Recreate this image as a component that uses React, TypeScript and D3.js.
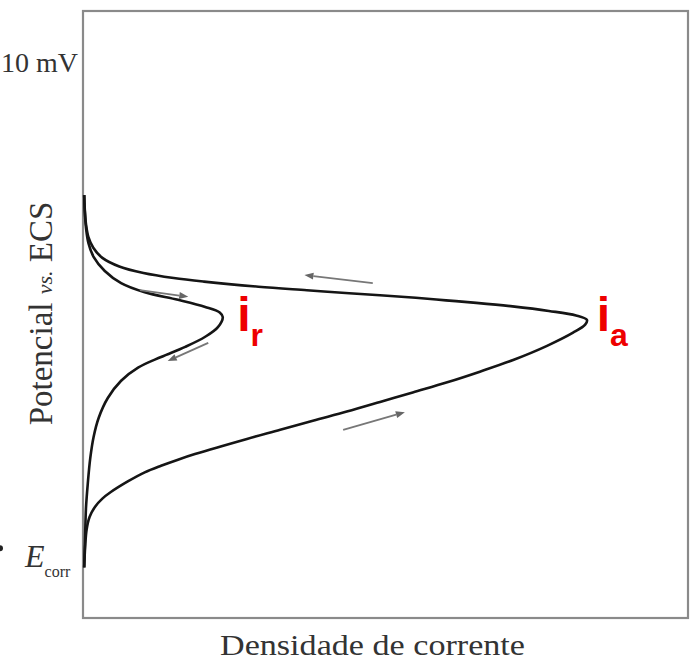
import React from "react";
import * as d3 from "d3";

// Potential axis: 0 = E_corr, 100 = top label; current density in arbitrary units 0..100
const anodicForward: [number, number][] = [
  [0.2, 0], [0.35, 4.0], [0.6, 7.5], [1.1, 10.0], [2.0, 12.0], [3.2, 13.6], [4.6, 14.9],
  [7.4, 17.0], [10.2, 18.8], [12.9, 20.1], [15.7, 21.3], [18.5, 22.4], [27.1, 25.4],
  [32.6, 27.2], [38.0, 29.0], [43.6, 30.8], [49.1, 32.7], [54.5, 34.6], [60.2, 36.6],
  [65.6, 38.7], [71.1, 41.0], [76.7, 43.8], [81.0, 46.4], [83.0, 48.0], [83.3, 48.9],
];
const anodicReverse: [number, number][] = [
  [83.3, 48.9], [81.5, 49.8], [77.0, 50.7], [71.0, 51.6], [65.0, 52.3], [60.0, 52.8],
  [55.0, 53.3], [44.0, 54.2], [37.0, 54.8], [29.0, 55.5], [20.0, 56.5], [15.0, 57.2],
  [10.0, 58.2], [6.0, 59.5], [3.2, 61.2], [1.7, 63.2], [0.9, 65.3], [0.5, 67.8],
  [0.3, 70.7], [0.2, 73.6],
];
const reactivationLower: [number, number][] = [
  [0.2, 0], [0.33, 5.4], [0.5, 11.9], [0.8, 16.7], [1.2, 21.6], [1.75, 25.8], [2.6, 29.6],
  [4.1, 33.5], [6.3, 36.9], [9.1, 39.5], [12.9, 41.6], [16.9, 43.6], [20.2, 45.6],
  [22.3, 47.5], [23.1, 49.5],
];
const reactivationUpper: [number, number][] = [
  [23.1, 49.5], [22.6, 50.4], [20.2, 51.5], [15.7, 52.9], [10.2, 54.4], [6.3, 56.2],
  [3.6, 58.6], [1.75, 61.4], [0.9, 64.1], [0.5, 67.1], [0.3, 70.3], [0.2, 73.6],
];
// arrows: [tailX, tailY, headX, headY]
const scanArrows: [number, number, number, number][] = [
  [47.9, 56.2, 36.6, 57.8],
  [43.0, 27.2, 53.2, 30.7],
  [9.4, 54.8, 17.4, 53.5],
  [20.7, 44.4, 14.0, 40.8],
];
const peakLabels = [
  { main: "i", sub: "r", x: 25.5, y: 46.8 },
  { main: "i", sub: "a", x: 84.9, y: 46.8 },
];
const topPotentialLabel = "10 mV";
const yAxisTitle = ["Potencial ", "vs.", " ECS"];
const xAxisTitle = "Densidade de corrente";

export default function App() {
  const W = 697, H = 661;
  const x = d3.scaleLinear().domain([0, 100]).range([83, 688]);
  const y = d3.scaleLinear().domain([-10, 110]).range([618, 11]);
  const line = d3
    .line<[number, number]>()
    .x((d) => x(d[0]))
    .y((d) => y(d[1]))
    .curve(d3.curveCatmullRom.alpha(0.5));
  const bigLoop = [...anodicForward, ...anodicReverse.slice(1)];
  const smallLoop = [...reactivationLower, ...reactivationUpper.slice(1)];

  const arrowEls = scanArrows.map((a, i) => {
    const x1 = x(a[0]), y1 = y(a[1]), x2 = x(a[2]), y2 = y(a[3]);
    const ang = Math.atan2(y2 - y1, x2 - x1);
    const L = 9, Wd = 3.5;
    const bx = x2 - L * Math.cos(ang), by = y2 - L * Math.sin(ang);
    const p1 = [bx + Wd * Math.sin(ang), by - Wd * Math.cos(ang)];
    const p2 = [bx - Wd * Math.sin(ang), by + Wd * Math.cos(ang)];
    return (
      <g key={i}>
        <line x1={x1} y1={y1} x2={bx} y2={by} stroke="#777" strokeWidth={1.8} />
        <path d={`M${x2},${y2}L${p1[0]},${p1[1]}L${p2[0]},${p2[1]}Z`} fill="#666" />
      </g>
    );
  });

  return (
    <svg
      width={W}
      height={H}
      style={{ position: "absolute", left: 0, top: 0, background: "#fff" }}
    >
      <rect x={x(0)} y={y(110)} width={x(100) - x(0)} height={y(-10) - y(110)}
        fill="none" stroke="#8a8a8a" strokeWidth={2.2} />
      <path d={line(bigLoop) || ""} fill="none" stroke="#151515" strokeWidth={2.6} />
      <path d={line(smallLoop) || ""} fill="none" stroke="#151515" strokeWidth={2.6} />
      {arrowEls}
      {peakLabels.map((p, i) => (
        <text key={i} x={x(p.x)} y={y(p.y)} fill="#ee0000"
          fontFamily="'Liberation Sans', Arial, sans-serif" fontWeight="bold" fontSize={48}>
          {p.main}
          <tspan fontSize={32} dy={15}>{p.sub}</tspan>
        </text>
      ))}
      <text x={78} y={y(100) + 10} textAnchor="end" fontFamily="'Liberation Serif', serif"
        fontSize={28} fill="#333">{topPotentialLabel}</text>
      <text x={25} y={y(0)} fontFamily="'Liberation Serif', serif" fontStyle="italic"
        fontSize={32} fill="#333">E<tspan fontSize={16} fontStyle="normal" dy={10}>corr</tspan></text>
      <circle cx={0} cy={y(3.8)} r={3} fill="#222" />
      <text transform={`translate(52,${(197 + 430) / 2}) rotate(-90)`} textAnchor="middle"
        fontFamily="'Liberation Serif', serif" fontSize={33} fill="#333">
        {yAxisTitle[0]}
        <tspan fontSize={22} fontStyle="italic">{yAxisTitle[1]}</tspan>
        {yAxisTitle[2]}
      </text>
      <text x={(220 + 525) / 2} y={655} textAnchor="middle" textLength={305}
        lengthAdjust="spacingAndGlyphs"
        fontFamily="'Liberation Serif', serif" fontSize={29} fill="#333">{xAxisTitle}</text>
    </svg>
  );
}
